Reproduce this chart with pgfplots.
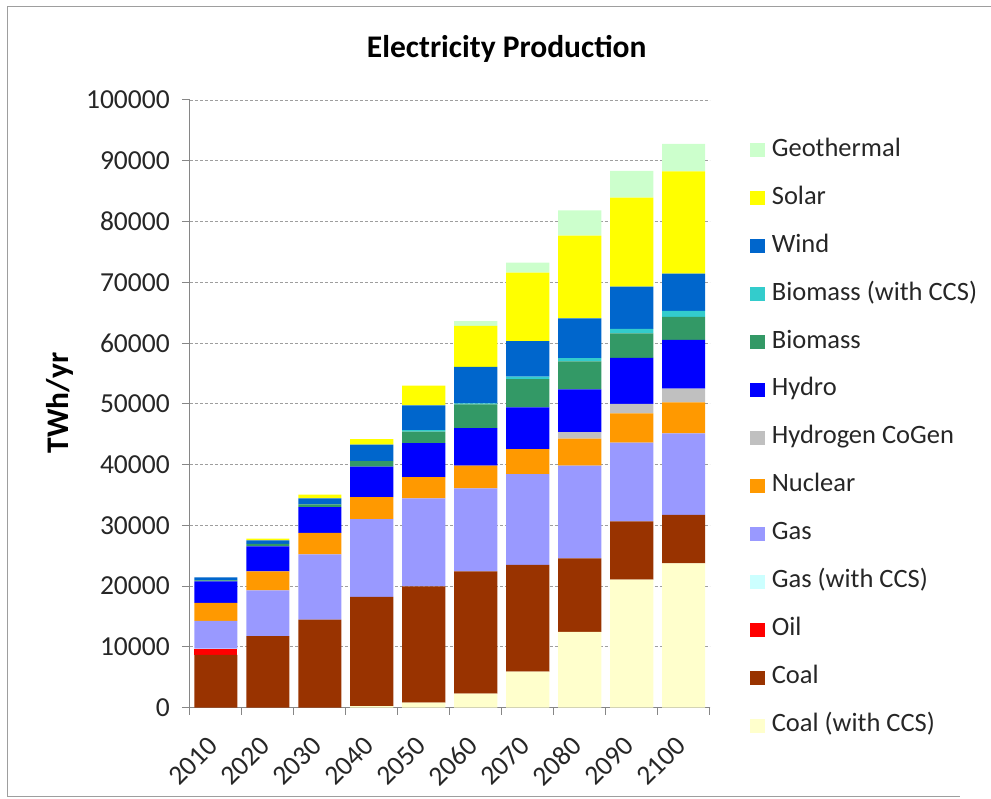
\documentclass[border=0pt]{standalone}
\usepackage{pgfplots}
\pgfplotsset{compat=1.18}
\usepackage{pgfplotstable}
\usepackage{fontspec}
\setmainfont{Carlito}
\definecolor{cGeo}{HTML}{CCFFCC}
\definecolor{cSolar}{HTML}{FFFF00}
\definecolor{cWind}{HTML}{0066CC}
\definecolor{cBioCCS}{HTML}{33CCCC}
\definecolor{cBio}{HTML}{339966}
\definecolor{cHydro}{HTML}{0000FF}
\definecolor{cH2}{HTML}{C0C0C0}
\definecolor{cNuc}{HTML}{FF9900}
\definecolor{cGas}{HTML}{9999FF}
\definecolor{cGasCCS}{HTML}{CCFFFF}
\definecolor{cOil}{HTML}{FF0000}
\definecolor{cCoal}{HTML}{993300}
\definecolor{cCoalCCS}{HTML}{FFFFCC}
\definecolor{axgray}{HTML}{868686}
\pgfplotstableread{
x coalccs coal oil gasccs gas nuclear hydrogen hydro biomass bioccs wind solar geo
0 0 8700 990 0 4600 2950 0 3550 150 0 510 0 0
1 0 11760 0 0 7550 3120 0 4110 390 0 590 280 0
2 0 14500 0 0 10720 3520 0 4260 430 0 990 650 0
3 260 17970 0 0 12800 3620 0 5020 890 0 2720 890 0
4 820 19150 0 0 14450 3510 0 5580 1910 230 4100 3250 0
5 2300 20130 0 0 13630 3780 0 6140 3940 160 6010 6740 770
6 5910 17570 0 0 14940 4110 0 6890 4650 380 5860 11280 1640
7 12480 12090 0 0 15270 4430 1050 7060 4600 540 6520 13630 4150
8 21070 9570 0 0 12970 4830 1530 7600 4010 750 6960 14620 4430
9 23740 8000 0 0 13410 5100 2230 8050 3770 990 6140 16800 4550
}\datatable
\begin{document}
\begin{tikzpicture}[font=\fontsize{26}{31}\selectfont]
\path (0pt,0pt) rectangle (991pt,799pt);
\draw[axgray!80, line width=1pt] (960pt,2pt) -- (8pt,2pt) -- (8pt,792pt) -- (991pt,792pt);
\node[font=\fontsize{31.5}{36}\selectfont\bfseries] at (507pt,750pt) {Electricity Production};
\node[font=\fontsize{31.5}{36}\selectfont\bfseries, rotate=90] at (60pt,396pt) {TWh/yr};
\begin{axis}[
  at={(190pt,91pt)}, anchor=south west,
  scale only axis, width=520pt, height=608pt,
  ybar stacked, bar width=0.83,
  xmin=-0.5, xmax=9.5, ymin=0, ymax=100000,
  xtick={0,...,9},
  xticklabels={2010,2020,2030,2040,2050,2060,2070,2080,2090,2100},
  minor xtick={-0.5,0.5,...,9.5},
  ytick={0,10000,20000,30000,40000,50000,60000,70000,80000,90000,100000},
  yticklabels={0,10000,20000,30000,40000,50000,60000,70000,80000,90000,100000},
  scaled y ticks=false,
  axis lines=left, axis line style={-, axgray, line width=1pt},
  tick align=outside,
  major x tick style={draw=none},
  minor x tick style={axgray, line width=1pt},
  minor tick length=7pt,
  major tick length=8pt,
  y tick style={axgray, line width=1pt},
  ymajorgrids, major grid style={axgray!80, dash pattern=on 3pt off 2pt, line width=0.8pt},
  tick label style={font=\fontsize{27.5}{32}\selectfont, text=black!85},
  yticklabel style={inner sep=0pt, xshift=-12pt},
  xticklabel style={rotate=45, anchor=east, inner sep=0pt, xshift=-20pt, yshift=-16pt},
  reverse legend,
  legend style={at={(1.077,0.9375)}, anchor=north west, draw=none, fill=none,
    row sep=24pt, inner sep=0pt,
    nodes={inner sep=0pt, text height=18pt, text depth=6pt, anchor=base west},
    /tikz/every odd column/.append style={column sep=7pt},
    font=\fontsize{26.5}{31}\selectfont, text=black!85},
  legend image code/.code={\fill[#1,draw=none] (0pt,-1pt) rectangle (15pt,13pt);},
  legend cell align=left,
]
\addplot[fill=cCoalCCS, draw=none] table[x=x, y=coalccs] {\datatable};
\addlegendentry{Coal (with CCS)}
\addplot[fill=cCoal, draw=none] table[x=x, y=coal] {\datatable};
\addlegendentry{Coal}
\addplot[fill=cOil, draw=none] table[x=x, y=oil] {\datatable};
\addlegendentry{Oil}
\addplot[fill=cGasCCS, draw=none] table[x=x, y=gasccs] {\datatable};
\addlegendentry{Gas (with CCS)}
\addplot[fill=cGas, draw=none] table[x=x, y=gas] {\datatable};
\addlegendentry{Gas}
\addplot[fill=cNuc, draw=none] table[x=x, y=nuclear] {\datatable};
\addlegendentry{Nuclear}
\addplot[fill=cH2, draw=none] table[x=x, y=hydrogen] {\datatable};
\addlegendentry{Hydrogen CoGen}
\addplot[fill=cHydro, draw=none] table[x=x, y=hydro] {\datatable};
\addlegendentry{Hydro}
\addplot[fill=cBio, draw=none] table[x=x, y=biomass] {\datatable};
\addlegendentry{Biomass}
\addplot[fill=cBioCCS, draw=none] table[x=x, y=bioccs] {\datatable};
\addlegendentry{Biomass (with CCS)}
\addplot[fill=cWind, draw=none] table[x=x, y=wind] {\datatable};
\addlegendentry{Wind}
\addplot[fill=cSolar, draw=none] table[x=x, y=solar] {\datatable};
\addlegendentry{Solar}
\addplot[fill=cGeo, draw=none] table[x=x, y=geo] {\datatable};
\addlegendentry{Geothermal}
\end{axis}
\end{tikzpicture}
\end{document}
